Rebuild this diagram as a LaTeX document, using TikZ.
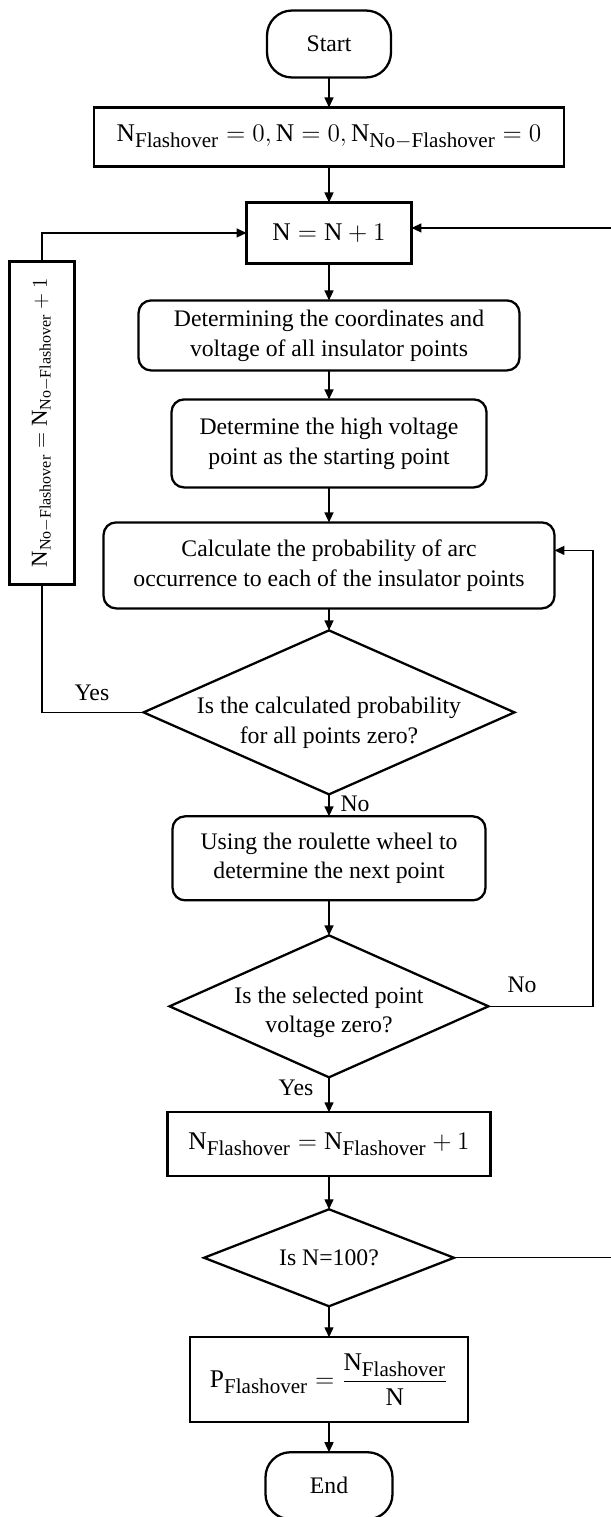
\documentclass[tikz,border=0pt]{standalone}
\usepackage{amsmath}
\usepackage{fontspec}
\setmainfont{Liberation Serif}
\usetikzlibrary{arrows.meta,positioning,shapes.geometric}
\DeclareMathSizes{14.5}{14.5}{12}{9}
\newcommand{\Nsub}[1]{\mathrm{N}_{\mathrm{#1}}}
\tikzset{
    flowfont/.style={font=\fontsize{13.5}{17}\selectfont},
    termbox/.style={draw, line width=1.3pt, rounded corners=0.5cm, align=center, flowfont, outer sep=0pt,
        minimum width=2.48cm, minimum height=1.34cm},
    procbox/.style={draw, line width=1.3pt, align=center, inner sep=0pt, outer sep=0pt,
        font=\fontsize{14.5}{17}\selectfont},
    stepbox/.style={draw, line width=1.3pt, rounded corners=0.25cm, align=center, inner sep=0pt,
        outer sep=0pt, flowfont},
    decbox/.style={draw, diamond, line width=1.3pt, inner sep=0pt, outer sep=0pt},
    dectext/.style={align=center, flowfont},
    lbl/.style={flowfont},
    flowline/.style={line width=0.8pt},
    flowarrow/.style={flowline, -{Triangle[length=2mm,width=1.8mm]}}
}

\begin{document}
\begin{tikzpicture}[x=0.02cm, y=-0.02cm]
\useasboundingbox (0,0) rectangle (611,1517);
\node[termbox] (start) at (329,44) {Start};
\node[procbox, below=0.6cm of start, minimum width=9.4cm, minimum height=1.18cm] (init) {$\Nsub{Flashover} = 0, \mathrm{N} = 0, \Nsub{No{-}Flashover} = 0$};
\node[procbox, below=0.72cm of init, minimum width=3.3cm, minimum height=1.22cm] (nbox) {$\mathrm{N} = \mathrm{N} + 1$};
\node[stepbox, below=0.74cm of nbox, minimum width=7.62cm, minimum height=1.4cm] (coords) {Determining the coordinates and\\voltage of all insulator points};
\node[stepbox, below=0.58cm of coords, minimum width=6.3cm, minimum height=1.76cm] (hvpoint) {Determine the high voltage\\point as the starting point};
\node[stepbox, below=0.7cm of hvpoint, minimum width=9.02cm, minimum height=1.72cm] (arcprob) {Calculate the probability of arc\\occurrence to each of the insulator points};
\node[decbox, below=0.44cm of arcprob, minimum width=7.42cm, minimum height=3.28cm] (allzero) {};
\node[dectext] (allzerotxt) at ([yshift=-0.2cm]allzero.center) {Is the calculated probability\\for all points zero?};
\node[stepbox, below=0.44cm of allzero, minimum width=6.26cm, minimum height=1.68cm] (roulette) {Using the roulette wheel to\\determine the next point};
\node[decbox, below=0.7cm of roulette, minimum width=6.38cm, minimum height=2.84cm] (volzero) {};
\node[dectext] (volzerotxt) at ([yshift=-0.12cm]volzero.center) {Is the selected point\\voltage zero?};
\node[procbox, below=0.7cm of volzero, minimum width=6.46cm, minimum height=1.28cm] (flashinc) {$\Nsub{Flashover} = \Nsub{Flashover} + 1$};
\node[decbox, below=0.66cm of flashinc, minimum width=5cm, minimum height=1.94cm] (lastrun) {};
\node[dectext] (lastruntxt) at (lastrun.center) {Is N=100?};
\node[procbox, below=0.62cm of lastrun, minimum width=5.56cm, minimum height=1.7cm] (pflash) {$\mathrm{P}_{\mathrm{Flashover}} = \dfrac{\Nsub{Flashover}}{\mathrm{N}}$};
\node[termbox, below=0.6cm of pflash, minimum width=2.54cm, minimum height=1.34cm] (finish) {End};
\node[procbox, rotate=90, minimum width=6.46cm, minimum height=1.3cm, font=\fontsize{13}{16}\selectfont] (noflashinc) at (42,423) {$\Nsub{No{-}Flashover} = \Nsub{No{-}Flashover} + 1$};

\draw[flowarrow] (start) -- (init);
\draw[flowarrow] (init) -- (nbox);
\draw[flowarrow] (nbox) -- (coords);
\draw[flowarrow] (coords) -- (hvpoint);
\draw[flowarrow] (hvpoint) -- (arcprob);
\draw[flowarrow] (arcprob) -- (allzero);
\draw[flowarrow] (allzero) -- (roulette);
\draw[flowarrow] (roulette) -- (volzero);
\draw[flowarrow] (volzero) -- (flashinc);
\draw[flowarrow] (flashinc) -- (lastrun);
\draw[flowarrow] (lastrun) -- (pflash);
\draw[flowarrow] (pflash) -- (finish);

\draw[flowline] (allzero.west) -| (noflashinc.west);
\draw[flowarrow] (noflashinc.east) |- (nbox.west);
\coordinate (arcin) at ([yshift=0.3cm]arcprob.east);
\coordinate (innerx) at (593,0);
\draw[flowarrow] (volzero.east) -| (innerx |- arcin) -- (arcin);
\coordinate (nin) at ([yshift=0.1cm]nbox.east);
\coordinate (outerx) at (613,0);
\draw[flowarrow] (lastrun.east) -| (outerx |- nin) -- (nin);

\node[lbl] (yesleft) at (92,693) {Yes};
\node[lbl] (nodown) at (355,804) {No};
\node[lbl] (noright) at (522,985) {No};
\node[lbl] (yesdown) at (296,1088) {Yes};
\end{tikzpicture}
\end{document}
